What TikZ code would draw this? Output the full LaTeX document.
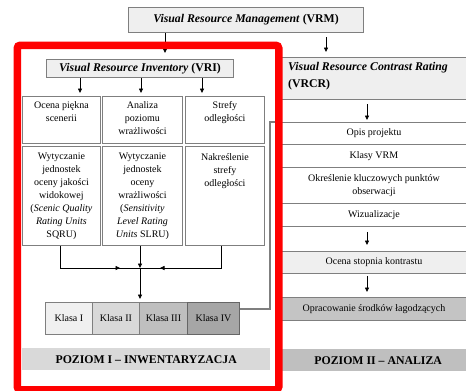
\documentclass[tikz,border=0pt]{standalone}
\usepackage{fontspec}
\setmainfont{Liberation Serif}
\usetikzlibrary{arrows.meta,decorations.markings}

\definecolor{boxline}{HTML}{7F7F7F}
\definecolor{paleg}{HTML}{EFEFEF}
\definecolor{klI}{HTML}{F0F0F0}
\definecolor{klII}{HTML}{D9D9D9}
\definecolor{klIII}{HTML}{BFBFBF}
\definecolor{klIV}{HTML}{A6A6A6}
\definecolor{midg}{HTML}{C4C4C4}

\begin{document}
\begin{tikzpicture}[x=1pt,y=-1pt,
  cell/.style={draw=boxline, line width=0.9pt, fill=white, anchor=north west, inner sep=0pt},
  headbox/.style={cell, fill=paleg, line width=1.1pt},
  txt/.style={anchor=north, align=center, inner sep=0pt, font=\fontsize{10}{13}\selectfont},
  headtxt/.style={inner sep=0pt, font=\fontsize{11.8}{17}\selectfont\bfseries},
  arr/.style={-{Triangle[length=4.5pt,width=4pt]}, line width=0.8pt},
  midarrow/.style={line width=0.8pt, postaction={decorate}, decoration={markings,
      mark=at position 0.5 with {\arrow{Triangle[length=4.5pt,width=4pt]}}}},
  linkline/.style={draw=boxline, line width=1.2pt},
  levelbar/.style={anchor=north west, inner sep=0pt}
]
\useasboundingbox (0,0) rectangle (466,391);
\fill[white] (0,0) rectangle (466,391);
\clip (0,0) rectangle (466,391);

% ---- top management box ----
\node[headbox, minimum width=235, minimum height=25] (vrm) at (128,7) {};
\node[headtxt] (vrmt) at (vrm.center) {\textit{Visual Resource Management} (VRM)};

% ---- left branch: inventory ----
\node[headbox, minimum width=187, minimum height=18] (vri) at (46,59) {};
\node[headtxt] (vrit) at (vri.center) {\textit{Visual Resource Inventory} (VRI)};

\node[cell, minimum width=78, minimum height=47] (a1) at (22,96) {};
\node[cell, minimum width=80, minimum height=47] (a2) at (102,96) {};
\node[cell, minimum width=79, minimum height=47] (a3) at (185,96) {};
\node[txt] (a1t) at ([yshift=-5pt]a1.north) {Ocena piękna\\scenerii};
\node[txt] (a2t) at ([yshift=-5pt]a2.north) {Analiza\\poziomu\\wrażliwości};
\node[txt] (a3t) at ([yshift=-5pt]a3.north) {Strefy\\odległości};

\node[cell, minimum width=78, minimum height=99] (b1) at (22,146) {};
\node[cell, minimum width=80, minimum height=99] (b2) at (102,146) {};
\node[cell, minimum width=79, minimum height=99] (b3) at (185,146) {};
\node[txt] (b1t) at ([yshift=-7pt]b1.north) {Wytyczanie\\jednostek\\oceny jakości\\widokowej\\(\textit{Scenic Quality}\\\textit{Rating Units}\\SQRU)};
\node[txt] (b2t) at ([yshift=-7pt]b2.north) {Wytyczanie\\jednostek\\oceny\\wrażliwości\\(\textit{Sensitivity}\\\textit{Level Rating}\\\textit{Units} SLRU)};
\node[txt] (b3t) at ([yshift=-7pt]b3.north) {Nakreślenie\\strefy\\odległości};

% classes
\node[cell, fill=klI,   minimum width=47, minimum height=32] (k1) at (45,302) {};
\node[cell, fill=klII,  minimum width=47, minimum height=32] (k2) at (92,302) {};
\node[cell, fill=klIII, minimum width=48, minimum height=32] (k3) at (139,302) {};
\node[cell, fill=klIV, draw=black!60, minimum width=52, minimum height=32] (k4) at (187,302) {};
\node[txt, anchor=center] (k1t) at (k1.center) {Klasa I};
\node[txt, anchor=center] (k2t) at (k2.center) {Klasa II};
\node[txt, anchor=center] (k3t) at (k3.center) {Klasa III};
\node[txt, anchor=center] (k4t) at (k4.center) {Klasa IV};

\node[levelbar, fill=klII, minimum width=248, minimum height=22] (lev1) at (22,348) {};
\node[headtxt] (lev1t) at (lev1.center) {POZIOM I – INWENTARYZACJA};

% ---- right branch: contrast rating ----
\node[headbox, minimum width=189, minimum height=42] (vrcr) at (281,57) {};
\node[headtxt, anchor=north west, align=left] (vrcrt) at (288,62) {\textit{Visual Resource Contrast Rating}\\(VRCR)};

\node[cell, minimum width=189, minimum height=22] (opis) at (281,122) {};
\node[cell, minimum width=189, minimum height=23] (klasy) at (281,144) {};
\node[cell, minimum width=189, minimum height=36] (okr) at (281,167) {};
\node[cell, minimum width=189, minimum height=23] (wiz) at (281,203) {};
\node[cell, fill=paleg, minimum width=189, minimum height=22] (ocena) at (281,251) {};
\node[cell, fill=midg, minimum width=189, minimum height=23] (oprac) at (281,297) {};
\node[txt, anchor=center] (opist) at ([xshift=-2pt]opis.center) {Opis projektu};
\node[txt, anchor=center] (klasyt) at ([xshift=-2pt]klasy.center) {Klasy VRM};
\node[txt, anchor=center] (okrt) at ([xshift=-2pt]okr.center) {Określenie kluczowych punktów\\obserwacji};
\node[txt, anchor=center] (wizt) at ([xshift=-2pt]wiz.center) {Wizualizacje};
\node[txt, anchor=center] (ocenat) at ([xshift=-2pt]ocena.center) {Ocena stopnia kontrastu};
\node[txt, anchor=center] (opract) at ([xshift=-2pt]oprac.center) {Opracowanie środków łagodzących};

\node[levelbar, fill=klIII, minimum width=188, minimum height=22] (lev2) at (282,349) {};
\node[headtxt] (lev2t) at ([xshift=2pt]lev2.center) {POZIOM II – ANALIZA};

% ---- connectors ----
\coordinate (xl) at (165,0);
\coordinate (xr) at (326,0);
\coordinate (xa) at (80,0);
\coordinate (xb) at (141,0);
\coordinate (xc) at (202,0);
\coordinate (xs) at (367,0);
\coordinate (join) at (140,268);
\coordinate (bend) at (270,309);

\draw[arr, shorten >=6pt] (vrm.south -| xl) -- (vri.north -| xl);
\draw[arr, shorten <=4pt, shorten >=5pt] (vrm.south -| xr) -- (vrcr.north -| xr);
\draw[arr, shorten >=3pt] (vri.south -| xa) -- (a1.north -| xa);
\draw[arr, shorten >=3pt] (vri.south -| xb) -- (a2.north -| xb);
\draw[arr, shorten >=3pt] (vri.south -| xc) -- (a3.north -| xc);

\draw[line width=0.8pt] ([xshift=-1pt]b1.south) |- ([xshift=-40pt]join);
\draw[midarrow] ([xshift=-40pt]join) -- (join);
\draw[line width=0.8pt] ([xshift=-4pt]b3.south) |- ([xshift=40pt]join);
\draw[midarrow] ([xshift=40pt]join) -- (join);
\draw[arr] (b2.south -| join) -- (join);
\draw[arr, shorten >=3pt] (join) -- (k3.north west -| join);

\draw[arr, shorten <=4pt, shorten >=2pt] (vrcr.south -| xs) -- (opis.north -| xs);
\draw[arr, shorten <=5pt, shorten >=6pt] (wiz.south -| xs) -- (ocena.north -| xs);
\draw[arr, shorten <=2pt, shorten >=5pt] (ocena.south -| xs) -- (oprac.north -| xs);

\draw[linkline] (k4.east |- bend) -- (bend) |- (opis.north west);

% ---- red frame around level I ----
\node[draw=red, line width=7.5pt, rounded corners=3pt, anchor=north west, inner sep=0pt,
      minimum width=261.5, minimum height=344.5] (frame) at (13.5,41.5) {};
\end{tikzpicture}
\end{document}
